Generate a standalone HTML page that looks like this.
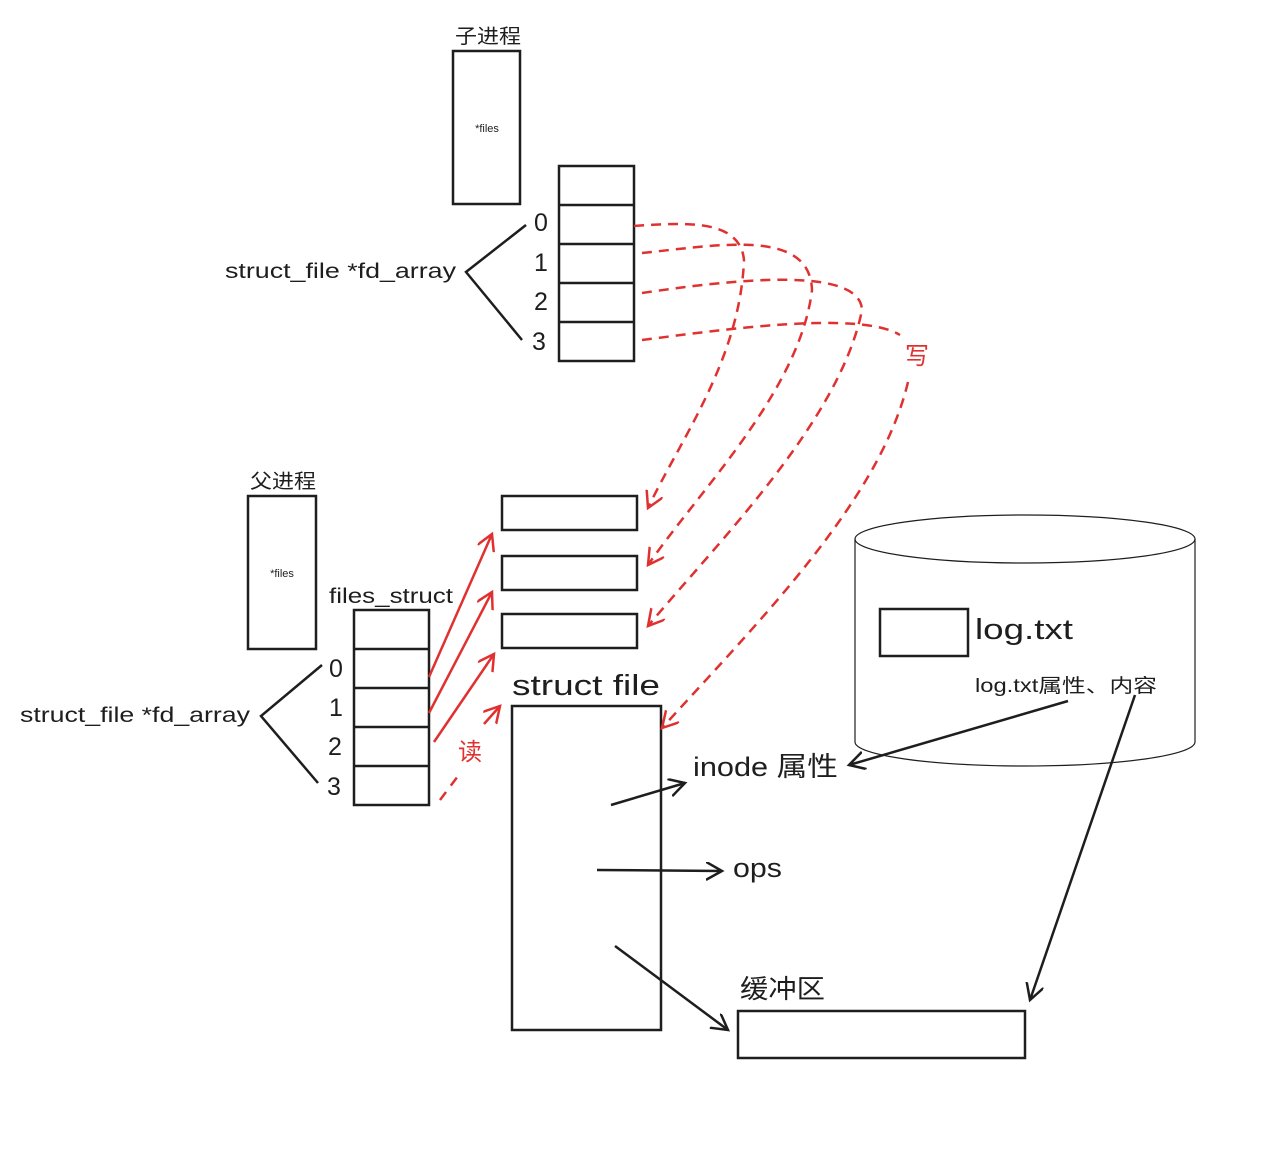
<!DOCTYPE html>
<html><head><meta charset="utf-8"><style>html,body{margin:0;padding:0;background:#fff}svg{display:block}text{font-family:"Liberation Sans","Noto Sans CJK SC",sans-serif;fill:#1e1e1e}</style></head><body>
<svg width="1283" height="1149" viewBox="0 0 1283 1149" xmlns="http://www.w3.org/2000/svg">
<defs>
<marker id="ab" markerWidth="20" markerHeight="20" refX="16" refY="9" orient="auto" markerUnits="userSpaceOnUse"><path d="M0,0 L16,9 L0,18" fill="none" stroke="#1e1e1e" stroke-width="2.5"/></marker>
<marker id="ar" markerWidth="20" markerHeight="20" refX="16" refY="9" orient="auto" markerUnits="userSpaceOnUse"><path d="M0,0 L16,9 L0,18" fill="none" stroke="#e03131" stroke-width="2.5"/></marker>
</defs>
<g fill="none" stroke="#1e1e1e" stroke-width="2.5">
<rect x="453" y="51" width="67" height="153"/>
<rect x="559" y="166" width="75" height="195"/>
<path d="M559 205H634M559 244H634M559 283H634M559 322H634"/>
<path d="M526 225L466 272L522 340"/>
<rect x="248" y="496" width="68" height="153"/>
<rect x="354" y="610" width="75" height="195"/>
<path d="M354 649H429M354 688H429M354 727H429M354 766H429"/>
<path d="M322 665L261 716L318 783"/>
<rect x="502" y="496" width="135" height="34"/>
<rect x="502" y="556" width="135" height="34"/>
<rect x="502" y="614" width="135" height="34"/>
<rect x="512" y="706" width="149" height="324"/>
<rect x="738" y="1011" width="287" height="47"/>
<rect x="880" y="609" width="88" height="47"/>
</g>
<g fill="none" stroke="#1e1e1e" stroke-width="1.2">
<ellipse cx="1025" cy="539" rx="170" ry="24"/>
<path d="M855 539V742A170 24 0 0 0 1195 742V539"/>
</g>
<g fill="none" stroke="#1e1e1e" stroke-width="2.5">
<path d="M611 805L685 783" marker-end="url(#ab)"/>
<path d="M597 870L722 871" marker-end="url(#ab)"/>
<path d="M615 946L728 1030" marker-end="url(#ab)"/>
<path d="M1068 701L849 765" marker-end="url(#ab)"/>
<path d="M1135 695L1030 1000" marker-end="url(#ab)"/>
</g>
<g fill="none" stroke="#e03131" stroke-width="2.5">
<path d="M429 677L492 534" marker-end="url(#ar)"/>
<path d="M429 713L492 592" marker-end="url(#ar)"/>
<path d="M434 742L494 654" marker-end="url(#ar)"/>
<path d="M440 800L458 776" stroke-dasharray="10 8"/>
<path d="M484 724L500 706" marker-end="url(#ar)"/>
</g>
<g fill="none" stroke="#e03131" stroke-width="2.5" stroke-dasharray="10 7">
<path d="M634 226C690 222 740 220 744 260C740 360 680 440 648 508" marker-end="url(#ar)"/>
<path d="M642 253C720 245 810 228 812 290C800 390 700 490 648 565" marker-end="url(#ar)"/>
<path d="M642 293C730 280 860 265 862 310C840 420 720 540 648 626" marker-end="url(#ar)"/>
<path d="M642 340C720 330 860 310 900 335"/>
<path d="M908 382C880 500 760 620 662 728" marker-end="url(#ar)"/>
</g>
<text x="455" y="43" font-size="20" textLength="66" lengthAdjust="spacingAndGlyphs">子进程</text>
<text x="487" y="132" font-size="11" text-anchor="middle">*files</text>
<text x="541" y="231" font-size="25" text-anchor="middle">0</text>
<text x="541" y="271" font-size="25" text-anchor="middle">1</text>
<text x="541" y="310" font-size="25" text-anchor="middle">2</text>
<text x="539" y="350" font-size="25" text-anchor="middle">3</text>
<text x="225" y="278" font-size="21" textLength="231" lengthAdjust="spacingAndGlyphs">struct_file *fd_array</text>
<text x="250" y="488" font-size="20" textLength="66" lengthAdjust="spacingAndGlyphs">父进程</text>
<text x="282" y="577" font-size="11" text-anchor="middle">*files</text>
<text x="329" y="603" font-size="21" textLength="124" lengthAdjust="spacingAndGlyphs">files_struct</text>
<text x="336" y="677" font-size="25" text-anchor="middle">0</text>
<text x="336" y="716" font-size="25" text-anchor="middle">1</text>
<text x="335" y="755" font-size="25" text-anchor="middle">2</text>
<text x="334" y="795" font-size="25" text-anchor="middle">3</text>
<text x="20" y="722" font-size="21" textLength="230" lengthAdjust="spacingAndGlyphs">struct_file *fd_array</text>
<text x="512" y="695" font-size="29" textLength="148" lengthAdjust="spacingAndGlyphs">struct file</text>
<text x="470" y="760" font-size="24" text-anchor="middle" style="fill:#e03131">读</text>
<text x="917" y="364" font-size="24" text-anchor="middle" style="fill:#e03131">写</text>
<text x="975" y="639" font-size="29" textLength="98" lengthAdjust="spacingAndGlyphs">log.txt</text>
<text x="975" y="692" font-size="19" textLength="182" lengthAdjust="spacingAndGlyphs">log.txt属性、内容</text>
<text x="693" y="776" font-size="27" textLength="145" lengthAdjust="spacingAndGlyphs">inode 属性</text>
<text x="733" y="877" font-size="27" textLength="49" lengthAdjust="spacingAndGlyphs">ops</text>
<text x="740" y="998" font-size="26" textLength="85" lengthAdjust="spacingAndGlyphs">缓冲区</text>
</svg>
</body></html>
